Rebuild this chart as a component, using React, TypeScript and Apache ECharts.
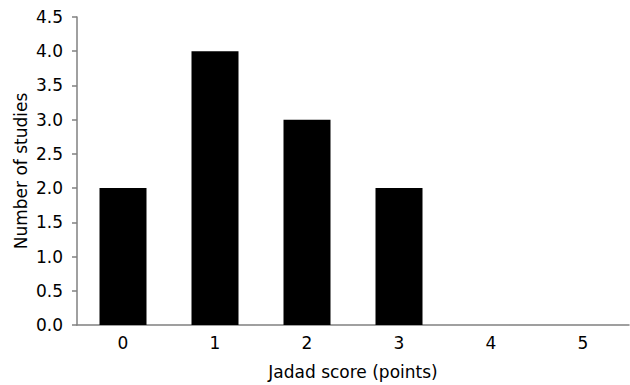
import React, { useEffect, useRef } from "react";
import * as echarts from "echarts";

const categories = ["0", "1", "2", "3", "4", "5"];
const studies = [2, 4, 3, 2, 0, 0];

export default function App() {
  const ref = useRef<HTMLDivElement>(null);
  useEffect(() => {
    const chart = echarts.init(ref.current!, null, { renderer: "svg" });
    const font = "DejaVu Sans";
    const fs = 17;
    chart.setOption({
      animation: false,
      grid: { left: 77, right: 1, top: 17, bottom: 60 },
      xAxis: {
        type: "category",
        data: categories,
        name: "Jadad score (points)",
        nameLocation: "middle",
        nameGap: 38,
        nameMoveOverlap: false,
        nameTextStyle: { fontFamily: font, fontSize: fs, color: "#000" },
        axisLine: { lineStyle: { color: "#808080", width: 1.5 } },
        axisTick: { inside: true, length: 7, lineStyle: { color: "#808080", width: 1.5 } },
        axisLabel: { fontFamily: font, fontSize: fs, color: "#000", margin: 9 },
      },
      yAxis: {
        type: "value",
        min: 0,
        max: 4.5,
        interval: 0.5,
        name: "Number of studies",
        nameLocation: "middle",
        nameGap: 48,
        nameMoveOverlap: false,
        nameTextStyle: { fontFamily: font, fontSize: fs, color: "#000" },
        axisLine: { show: true, lineStyle: { color: "#808080", width: 1.5 } },
        axisTick: { show: true, length: 5, lineStyle: { color: "#808080", width: 1.5 } },
        splitLine: { show: false },
        axisLabel: {
          fontFamily: font,
          fontSize: fs,
          color: "#000",
          margin: 14,
          formatter: (v: number) => v.toFixed(1),
        },
      },
      series: [
        {
          type: "bar",
          data: studies,
          barWidth: 47,
          itemStyle: { color: "#000" },
        },
      ],
    });
    return () => chart.dispose();
  }, []);
  return <div ref={ref} style={{ width: 630, height: 385, position: "absolute", left: 0, top: 0 }} />;
}
